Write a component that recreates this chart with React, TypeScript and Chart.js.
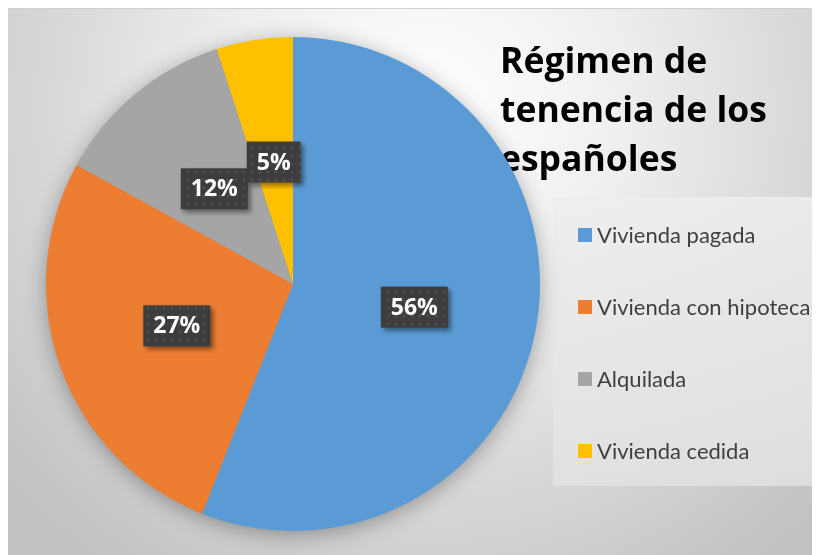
import React, { useEffect, useRef } from "react";
import { Chart, registerables } from "chart.js";

Chart.register(...registerables);

const categories = ["Vivienda pagada", "Vivienda con hipoteca", "Alquilada", "Vivienda cedida"];
const values = [56, 27, 12, 5];
const colors = ["#5B9BD5", "#ED7D31", "#A5A5A5", "#FFC000"];
const titleLines = ["Régimen de", "tenencia de los", "españoles"];

const W = 812;
const H = 547;

function makeDotPattern(ctx: CanvasRenderingContext2D) {
  const c = document.createElement("canvas");
  c.width = 8;
  c.height = 8;
  const g = c.getContext("2d")!;
  g.fillStyle = "#3d3d3d";
  g.fillRect(0, 0, 8, 8);
  const rg = g.createRadialGradient(4, 4, 0, 4, 4, 3);
  rg.addColorStop(0, "#575757");
  rg.addColorStop(1, "rgba(61,61,61,0)");
  g.fillStyle = rg;
  g.fillRect(0, 0, 8, 8);
  return ctx.createPattern(c, "repeat");
}

const decorPlugin = {
  id: "decor",
  beforeDraw(chart: any) {
    const ctx: CanvasRenderingContext2D = chart.ctx;
    ctx.save();
    const g = ctx.createRadialGradient(420, 100, 10, 420, 100, 560);
    g.addColorStop(0, "#ffffff");
    g.addColorStop(0.35, "#eeeeee");
    g.addColorStop(1, "#c2c2c2");
    ctx.fillStyle = g;
    ctx.fillRect(0, 0, W, H);
    ctx.fillStyle = "#cfcfcf";
    ctx.fillRect(0, 0, W, 1);
    // legend box
    const lg = ctx.createLinearGradient(0, 189, 0, 478);
    lg.addColorStop(0, "rgba(238,238,238,0.85)");
    lg.addColorStop(1, "rgba(226,226,226,0.85)");
    ctx.fillStyle = lg;
    ctx.fillRect(545, 189, W - 545, 478 - 189);
    // title
    ctx.fillStyle = "#000000";
    ctx.font = "bold 35.5px 'Open Sans', sans-serif";
    ctx.textBaseline = "alphabetic";
    ctx.textAlign = "left";
    titleLines.forEach((t, i) => ctx.fillText(t, 492, 65 + i * 49));
    // legend items
    ctx.font = "22px Lato, sans-serif";
    ctx.textBaseline = "middle";
    categories.forEach((c, i) => {
      const y = 227 + i * 72;
      ctx.fillStyle = colors[i];
      ctx.fillRect(570, y - 7, 14, 14);
      ctx.fillStyle = "#404040";
      ctx.fillText(c, 589, y + 1);
    });
    ctx.restore();
  },
  beforeDatasetsDraw(chart: any) {
    const ctx: CanvasRenderingContext2D = chart.ctx;
    const arc = chart.getDatasetMeta(0).data[0];
    if (!arc) return;
    ctx.save();
    ctx.shadowColor = "rgba(0,0,0,0.35)";
    ctx.shadowBlur = 22;
    ctx.shadowOffsetY = 4;
    ctx.fillStyle = "#999";
    ctx.beginPath();
    ctx.arc(arc.x, arc.y, arc.outerRadius - 1, 0, Math.PI * 2);
    ctx.fill();
    ctx.restore();
  },
  afterDatasetsDraw(chart: any) {
    const ctx: CanvasRenderingContext2D = chart.ctx;
    const meta = chart.getDatasetMeta(0);
    const pattern = makeDotPattern(ctx);
    const total = values.reduce((a, b) => a + b, 0);
    ctx.save();
    ctx.font = "bold 23px 'Open Sans', sans-serif";
    ctx.textAlign = "center";
    ctx.textBaseline = "middle";
    meta.data.forEach((a: any, i: number) => {
      const mid = (a.startAngle + a.endAngle) / 2;
      const r = a.outerRadius * 0.5;
      const cx = a.x + Math.cos(mid) * r;
      const cy = a.y + Math.sin(mid) * r;
      const label = Math.round((values[i] / total) * 100) + "%";
      const tw = ctx.measureText(label).width;
      const bw = tw + 20;
      const bh = 41;
      ctx.save();
      ctx.shadowColor = "rgba(0,0,0,0.45)";
      ctx.shadowBlur = 5;
      ctx.shadowOffsetX = 3;
      ctx.shadowOffsetY = 3;
      ctx.fillStyle = pattern || "#3f3f3f";
      ctx.fillRect(cx - bw / 2, cy - bh / 2, bw, bh);
      ctx.restore();
      ctx.fillStyle = "#ffffff";
      ctx.fillText(label, cx, cy + 1);
    });
    ctx.restore();
  },
};

export default function App() {
  const ref = useRef<HTMLCanvasElement>(null);
  useEffect(() => {
    if (!ref.current) return;
    const chart = new Chart(ref.current, {
      type: "pie",
      data: {
        labels: categories,
        datasets: [
          {
            data: values,
            backgroundColor: colors,
            borderWidth: 0,
          },
        ],
      },
      options: {
        responsive: false,
        animation: false,
        layout: { padding: { left: 38, top: 29, right: 280, bottom: 24 } },
        plugins: {
          legend: { display: false },
          title: { display: false },
          tooltip: { enabled: false },
        },
      },
      plugins: [decorPlugin],
    });
    return () => chart.destroy();
  }, []);
  return <canvas ref={ref} width={W} height={H} style={{ display: "block", width: W, height: H }} />;
}
